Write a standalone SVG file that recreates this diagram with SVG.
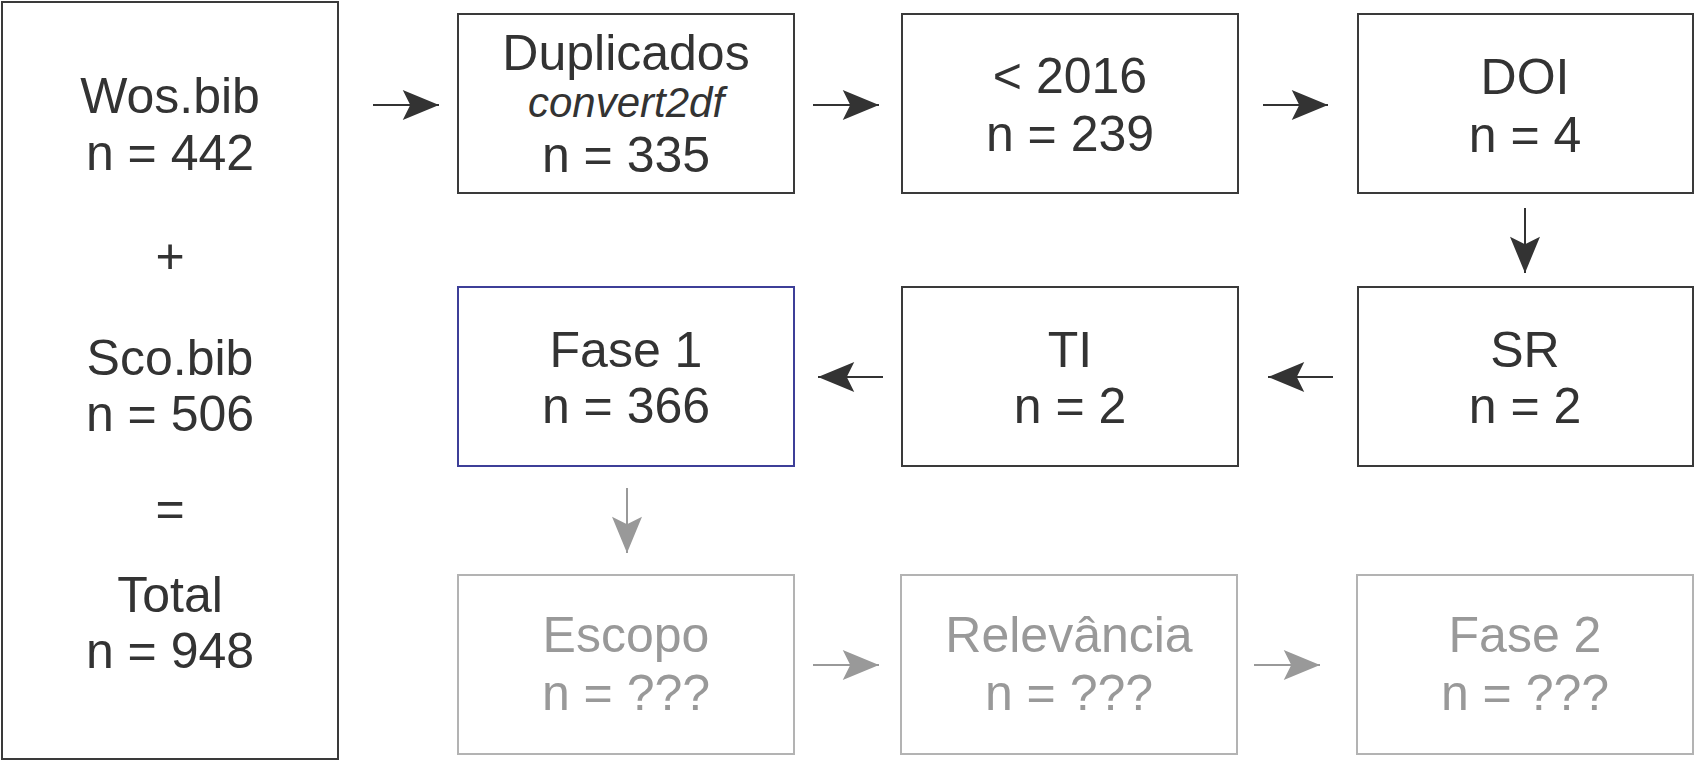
<svg xmlns="http://www.w3.org/2000/svg" width="1695" height="762" viewBox="0 0 1695 762">
<defs>
<style>
text{font-family:"Liberation Sans",Arial,sans-serif;font-size:50px;text-anchor:middle;fill:#333333}
.box{fill:#ffffff;stroke:#3a3a3a;stroke-width:2}
.blue{fill:#ffffff;stroke:#3d3f98;stroke-width:2}
.grey{fill:#ffffff;stroke:#b3b3b3;stroke-width:2}
text.g{fill:#999999}
.it{font-style:italic;font-size:42px}
.c{stroke:#333333;stroke-width:2;fill:none}
.cg{stroke:#999999;stroke-width:2;fill:none}
</style>
<marker id="ad" markerUnits="userSpaceOnUse" orient="auto" refX="0" refY="0" markerWidth="40" markerHeight="40" viewBox="-30 -15 32 30" overflow="visible">
<path d="M0,0 L-29,-12 L-23,0 L-29,12 Z" fill="#333333"/>
</marker>
<marker id="ag" markerUnits="userSpaceOnUse" orient="auto" refX="0" refY="0" markerWidth="40" markerHeight="40" viewBox="-30 -15 32 30" overflow="visible">
<path d="M0,0 L-29,-12 L-23,0 L-29,12 Z" fill="#999999"/>
</marker>
</defs>
<rect width="1695" height="762" fill="#ffffff"/>
<g id="connectors">
<path class="c" d="M373,105 H439" marker-end="url(#ad)"/>
<path class="c" d="M813,105 H879" marker-end="url(#ad)"/>
<path class="c" d="M1263,105 H1328" marker-end="url(#ad)"/>
<path class="c" d="M1525,208 V273" marker-end="url(#ad)"/>
<path class="c" d="M1333,377 H1268" marker-end="url(#ad)"/>
<path class="c" d="M883,377 H818" marker-end="url(#ad)"/>
<path class="cg" d="M627,488 V553" marker-end="url(#ag)"/>
<path class="cg" d="M813,665 H879" marker-end="url(#ag)"/>
<path class="cg" d="M1254,665 H1320" marker-end="url(#ag)"/>
</g>
<g id="sources">
<rect class="box" x="2" y="2" width="336" height="757" stroke-width="2.5"/>
<text x="170" y="113">Wos.bib</text>
<text x="170" y="170">n = 442</text>
<text x="170" y="273">+</text>
<text x="170" y="375">Sco.bib</text>
<text x="170" y="431">n = 506</text>
<text x="170" y="526">=</text>
<text x="170" y="612">Total</text>
<text x="170" y="668">n = 948</text>
</g>
<g id="duplicados">
<rect class="box" x="458" y="14" width="336" height="179"/>
<text x="626" y="70">Duplicados</text>
<text class="it" x="626" y="117">convert2df</text>
<text x="626" y="172">n = 335</text>
</g>
<g id="ano2016">
<rect class="box" x="902" y="14" width="336" height="179"/>
<text x="1070" y="93">&lt; 2016</text>
<text x="1070" y="151">n = 239</text>
</g>
<g id="doi">
<rect class="box" x="1358" y="14" width="335" height="179"/>
<text x="1525" y="94">DOI</text>
<text x="1525" y="152">n = 4</text>
</g>
<g id="sr">
<rect class="box" x="1358" y="287" width="335" height="179"/>
<text x="1525" y="367">SR</text>
<text x="1525" y="423">n = 2</text>
</g>
<g id="ti">
<rect class="box" x="902" y="287" width="336" height="179"/>
<text x="1070" y="367">TI</text>
<text x="1070" y="423">n = 2</text>
</g>
<g id="fase1">
<rect class="blue" x="458" y="287" width="336" height="179"/>
<text x="626" y="367">Fase 1</text>
<text x="626" y="423">n = 366</text>
</g>
<g id="escopo">
<rect class="grey" x="458" y="575" width="336" height="179"/>
<text class="g" x="626" y="652">Escopo</text>
<text class="g" x="626" y="710">n = ???</text>
</g>
<g id="relevancia">
<rect class="grey" x="901" y="575" width="336" height="179"/>
<text class="g" x="1069" y="652">Relevância</text>
<text class="g" x="1069" y="710">n = ???</text>
</g>
<g id="fase2">
<rect class="grey" x="1357" y="575" width="336" height="179"/>
<text class="g" x="1525" y="652">Fase 2</text>
<text class="g" x="1525" y="710">n = ???</text>
</g>
</svg>
